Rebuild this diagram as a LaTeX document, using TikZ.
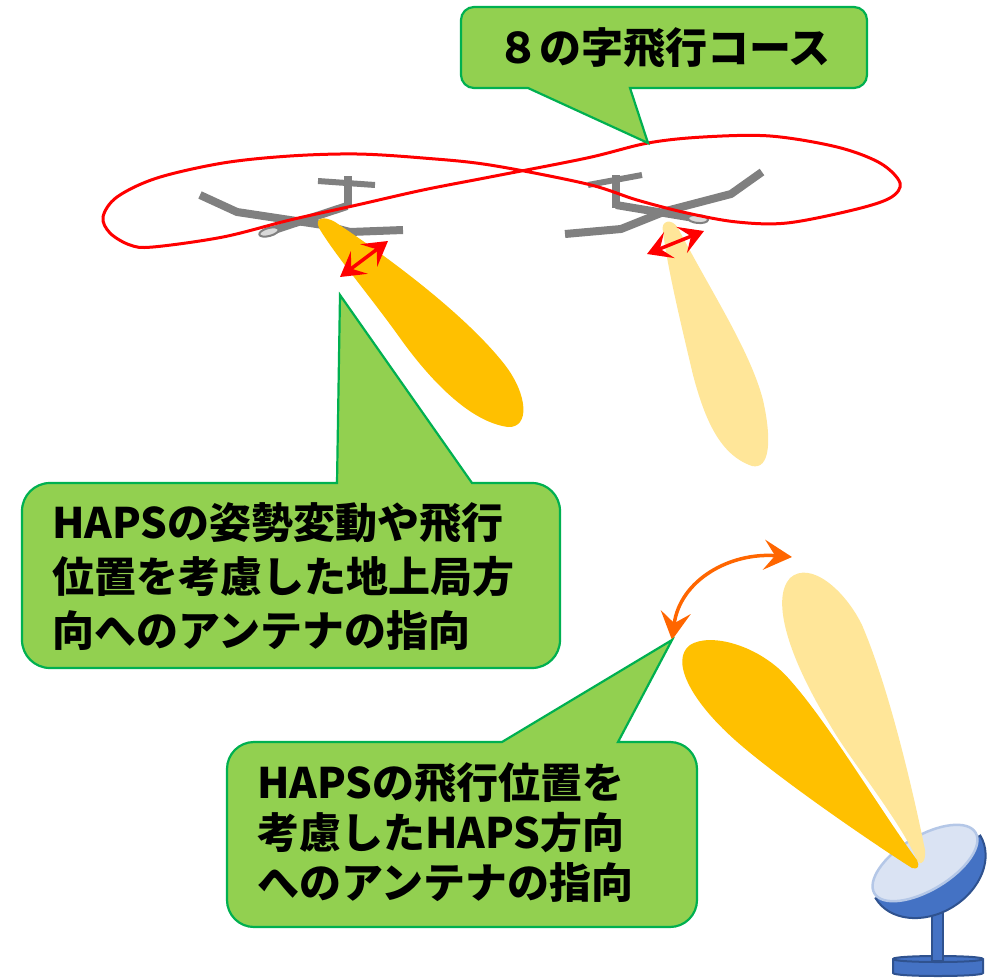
\documentclass[tikz,border=0pt]{standalone}
\usepackage{fontspec}
\setmainfont{Noto Sans CJK JP}
\usetikzlibrary{arrows.meta}
\definecolor{bubblefill}{HTML}{92D050}
\definecolor{bubbleline}{HTML}{00B050}
\definecolor{beamdark}{HTML}{FFC000}
\definecolor{beamlight}{HTML}{FFE699}
\definecolor{planegray}{HTML}{808080}
\definecolor{podgray}{HTML}{D9D9D9}
\definecolor{dishblue}{HTML}{4472C4}
\definecolor{dishedge}{HTML}{2F528F}
\definecolor{dishface}{HTML}{DAE3F3}
\definecolor{dishrim}{HTML}{B4C7E7}
\definecolor{swing}{HTML}{FF6600}
\tikzset{
  bubble/.style={fill=bubblefill, draw=bubbleline, line width=2.2pt, line join=miter},
  calltext/.style={font=\fontsize{42}{54}\selectfont\bfseries, inner sep=0pt, align=left, text=black},
  wing/.style={draw=planegray, line width=8pt, line join=miter},
  tailbar/.style={draw=planegray, line width=6pt},
  fin/.style={draw=planegray, line width=8pt},
  pod/.style={fill=podgray, draw=planegray, line width=2pt},
  course/.style={draw=red, line width=3pt},
  tilt/.style={draw=red, line width=3.5pt,
    {Stealth[length=24pt,width=28pt,inset=10pt]}-{Stealth[length=24pt,width=28pt,inset=10pt]}},
  sweep/.style={draw=swing, line width=3.5pt,
    {Stealth[length=28pt,width=30pt,inset=11pt]}-{Stealth[length=28pt,width=30pt,inset=11pt]}},
  dishpart/.style={fill=dishblue, draw=dishedge, line width=2pt},
}
\begin{document}
\begin{tikzpicture}[x=1pt, y=-1pt]
\useasboundingbox (0,0) rectangle (999,980);

% ---- aircraft 1 (left) ----
\draw[tailbar] (318,181) -- (375,185);
\draw[fin] (348,176) -- (348,207);
\draw[wing] (347,206) -- (268,232);
\draw[wing] (200,195) -- (237,212) -- (323,225) -- (350,232) -- (403,230);
\draw[pod, rotate around={15:(269,232)}] (269,232) ellipse [x radius=10pt, y radius=4pt];

% ---- aircraft 2 (right) ----
\draw[tailbar] (588,185) -- (642,175);
\draw[fin] (616,175) -- (616,208);
\draw[wing] (616,205) -- (700,219);
\draw[wing] (762,172) -- (731,194) -- (666,211) -- (621,229) -- (565,234);
\draw[pod, rotate around={-5:(698,219)}] (698,219) ellipse [x radius=10pt, y radius=4pt];

% ---- beams from the aircraft ----
\fill[beamdark] (319,228) .. controls (314,217) and (325,216) .. (335,222)
  .. controls (400,265) and (470,320) .. (505,365)
  .. controls (528,395) and (530,428) .. (508,427)
  .. controls (470,422) and (430,380) .. (400,338)
  .. controls (370,296) and (335,255) .. (319,228) -- cycle;
\fill[beamlight] (663,232) .. controls (660,220) and (672,218) .. (678,228)
  .. controls (710,290) and (750,350) .. (763,400)
  .. controls (772,440) and (770,470) .. (752,466)
  .. controls (720,455) and (705,420) .. (693,375)
  .. controls (680,320) and (668,270) .. (663,232) -- cycle;

% ---- figure-eight flight course ----
\draw[course] plot[smooth cycle, tension=0.55] coordinates {
  (587,158) (648,143) (703,137) (770,136) (837,147) (880,163) (900,183)
  (890,198) (853,210) (787,223) (737,222) (687,213) (637,200) (587,184)
  (490,165) (423,158) (357,154) (290,156) (223,163) (157,178) (117,197)
  (103,217) (110,233) (130,245) (153,247) (223,237) (290,220) (357,205)
  (423,190) (490,177)};

% ---- attitude arrows ----
\coordinate (t1a) at (340,277);
\coordinate (t1b) at (388,241);
\draw[tilt] (t1a) -- (t1b);
\coordinate (t2a) at (647,254);
\coordinate (t2b) at (704,231);
\draw[tilt] (t2a) -- (t2b);

% ---- ground station dish ----
\draw[dishpart] (893,959) -- (893,973) .. controls (893,977) and (983,977) .. (983,973)
  -- (983,959) .. controls (983,955) and (893,955) .. (893,959) -- cycle;
\draw[draw=dishedge, line width=2pt] (893,959) .. controls (893,963) and (983,963) .. (983,959);
\draw[dishpart] (932,905) rectangle (943,961);
\begin{scope}[shift={(928,867)}, rotate=31]
  \draw[dishpart] (-61pt,0pt) arc[start angle=180, end angle=360, x radius=61pt, y radius=47pt] -- cycle;
\end{scope}
\begin{scope}[shift={(925,863)}, rotate=31]
  \draw[fill=dishface, draw=dishrim, line width=2.5pt] (0,0) ellipse [x radius=59pt, y radius=27pt];
\end{scope}

% ---- beams from the ground station ----
\fill[beamlight] (918,862) .. controls (900,820) and (850,760) .. (830,725)
  .. controls (790,660) and (770,600) .. (790,578)
  .. controls (810,560) and (845,590) .. (862,625)
  .. controls (890,690) and (915,800) .. (925,850)
  .. controls (926,860) and (922,866) .. (918,862) -- cycle;
\fill[beamdark] (912,868) .. controls (880,848) and (780,780) .. (735,740)
  .. controls (690,700) and (670,660) .. (690,645)
  .. controls (710,632) and (760,645) .. (790,680)
  .. controls (830,725) and (880,810) .. (917,860)
  .. controls (920,866) and (918,870) .. (912,868) -- cycle;

% ---- steering arrow ----
\coordinate (s1) at (672,640);
\coordinate (s2) at (792,557);
\draw[sweep] (s1) .. controls (680,580) and (730,552) .. (s2);

% ---- callouts ----
\draw[bubble] (528,88) -- (648,143) -- (630,88) [rounded corners=13pt] -- (867,88)
  -- (867,7) -- (461,7) -- (461,88) [sharp corners] -- cycle;
\node[calltext] (course) at (664,48) {８の字飛行コース};

\draw[bubble] (337,483) -- (340,295) -- (472,483) [rounded corners=28pt] -- (560,483)
  -- (560,668) -- (22,668) -- (22,483) [sharp corners] -- cycle;
\node[calltext, anchor=west] (airside) at (52,577)
  {HAPSの姿勢変動や飛行\\位置を考慮した地上局方\\向へのアンテナの指向};

\draw[bubble] (502,742) -- (672,640) -- (618,742) [rounded corners=27pt] -- (697,742)
  -- (697,927) -- (227,927) -- (227,742) [sharp corners] -- cycle;
\node[calltext, anchor=west, font=\fontsize{42}{50}\selectfont\bfseries] (groundside) at (257,833)
  {HAPSの飛行位置を\\考慮したHAPS方向\\へのアンテナの指向};
\end{tikzpicture}
\end{document}
